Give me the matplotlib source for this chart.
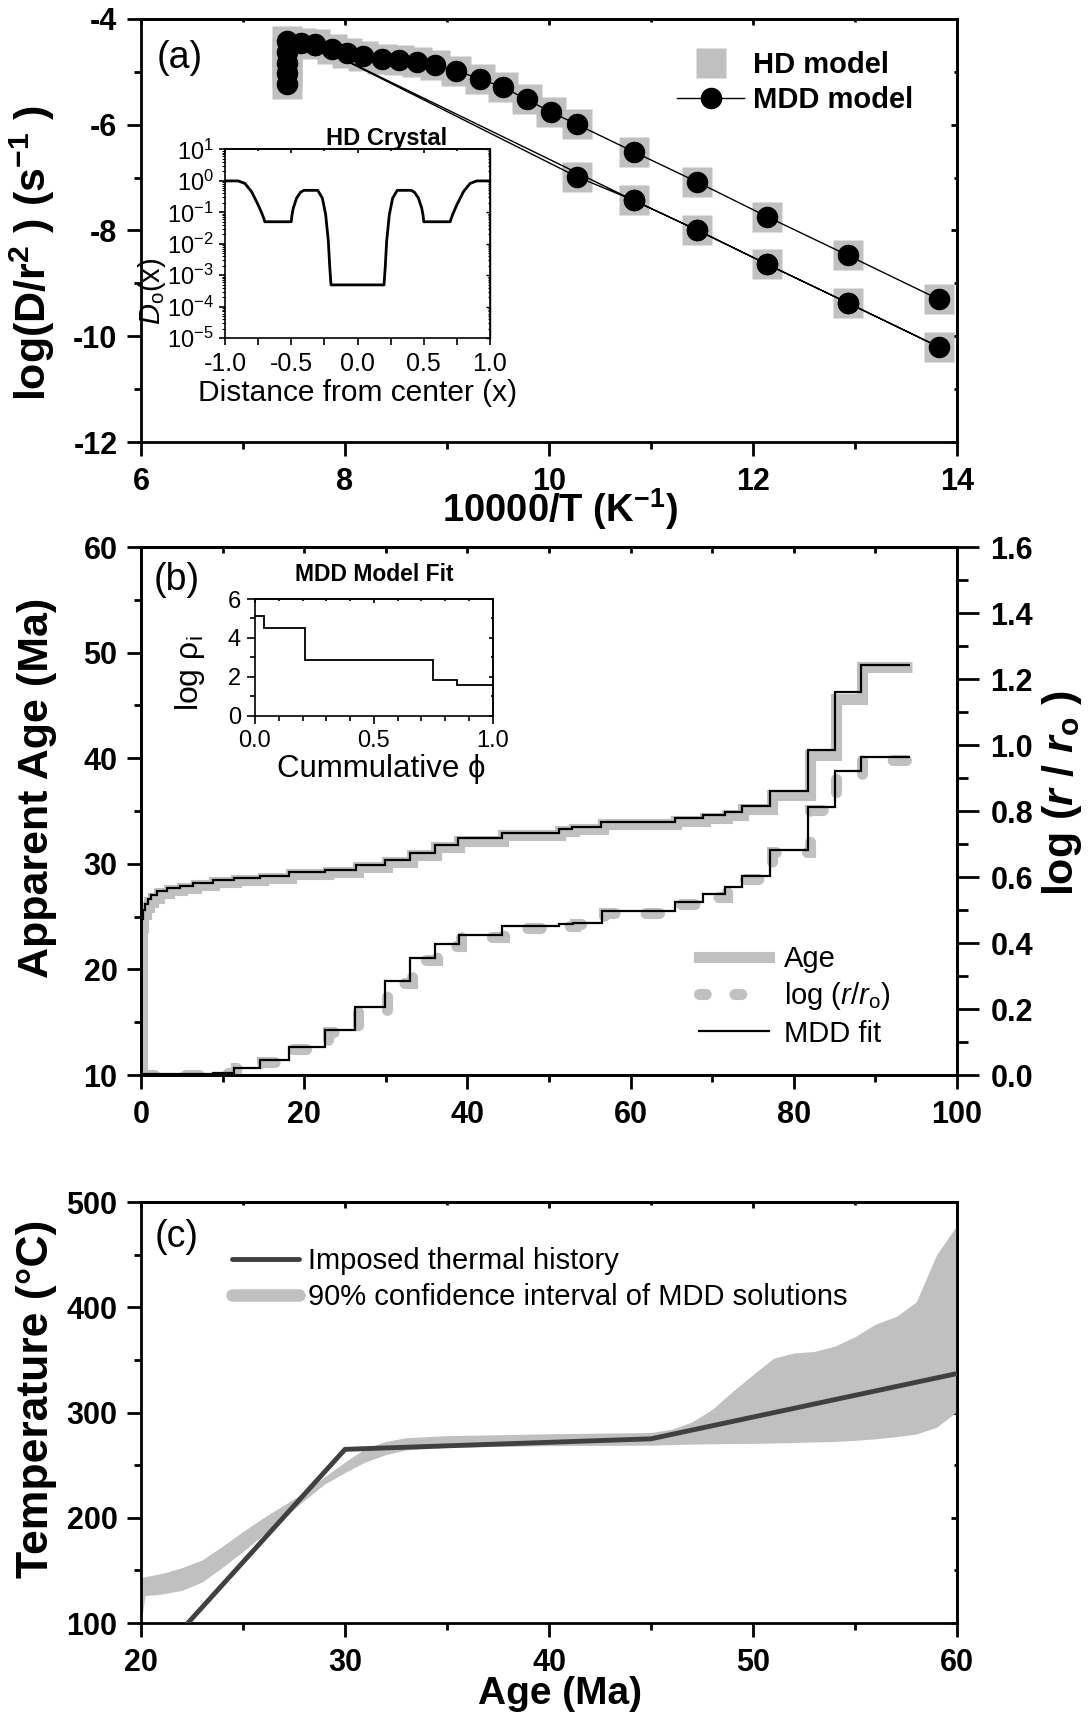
import numpy as np
import matplotlib
matplotlib.use("Agg")
import matplotlib.pyplot as plt
from matplotlib.ticker import MultipleLocator, LogLocator, NullFormatter, FormatStrFormatter
from matplotlib.lines import Line2D

plt.rcParams['font.family'] = ['Liberation Sans', 'DejaVu Sans']
plt.rcParams['font.weight'] = 'bold'
plt.rcParams['mathtext.fontset'] = 'custom'
plt.rcParams['mathtext.rm'] = 'Liberation Sans:weight=normal'
plt.rcParams['mathtext.it'] = 'Liberation Sans:italic:weight=normal'
plt.rcParams['mathtext.bf'] = 'Liberation Sans:bold'
plt.rcParams['mathtext.bfit'] = 'Liberation Sans:italic:bold'
plt.rcParams['axes.unicode_minus'] = False

LIGHT = '#c0c0c0'
DARK = '#404040'

# ---------------- (a) Arrhenius plot ----------------
hd_x = [7.43, 7.43, 7.43, 7.43, 7.43, 7.57, 7.71, 7.87, 8.02, 8.18, 8.36, 8.53, 8.71, 8.88,
        9.09, 9.32, 9.55, 9.78, 10.02, 10.27, 10.83, 11.45, 12.14, 12.93, 13.82,
        10.27, 10.83, 11.45, 12.14, 12.93, 13.82]
hd_y = [-5.22, -5.03, -4.83, -4.62, -4.42, -4.46, -4.47, -4.56, -4.65, -4.70, -4.75, -4.78, -4.81, -4.87,
        -4.98, -5.13, -5.29, -5.52, -5.76, -5.99, -6.51, -7.08, -7.74, -8.47, -9.30,
        -6.98, -7.43, -7.99, -8.64, -9.37, -10.20]

# MDD model, first chain (high temperature steps and upper branch)
mdd_x = [7.43, 7.43, 7.43, 7.43, 7.43, 7.57, 7.71, 7.87, 8.02, 8.18, 8.36, 8.53, 8.71, 8.88,
         9.09, 9.32, 9.55, 9.78, 10.02, 10.27, 10.83, 11.45, 12.14, 12.93, 13.82]
mdd_y = [-5.22, -5.03, -4.83, -4.62, -4.42, -4.46, -4.47, -4.56, -4.65, -4.70, -4.75, -4.78, -4.81, -4.87,
         -4.98, -5.13, -5.29, -5.52, -5.76, -5.99, -6.51, -7.08, -7.74, -8.47, -9.30]
# MDD model, second chain (lower branch, there and back)
mdd2_x = [7.71, 10.27, 10.83, 11.45, 12.14, 12.93, 13.82, 12.93, 12.14, 11.45, 10.83, 7.71]
mdd2_y = [-4.50, -6.98, -7.43, -7.99, -8.64, -9.37, -10.20, -9.37, -8.64, -7.99, -7.43, -4.50]

# inset (a): HD crystal diffusivity profile
prof_x = [-1.0, -0.9, -0.85, -0.8, -0.75, -0.72, -0.705, -0.7, -0.5, -0.495, -0.485, -0.46, -0.43,
          -0.405, -0.3, -0.265, -0.24, -0.22, -0.21, -0.2, 0.2, 0.21, 0.22, 0.24, 0.265, 0.3,
          0.405, 0.43, 0.46, 0.485, 0.495, 0.5, 0.7, 0.705, 0.72, 0.75, 0.8, 0.85, 0.9, 1.0]
prof_logd = [0, 0, -0.08, -0.34, -0.76, -1.05, -1.22, -1.3, -1.3, -1.1, -0.87, -0.55, -0.36,
             -0.3, -0.3, -0.55, -1.08, -1.92, -2.7, -3.31, -3.31, -2.7, -1.92, -1.08, -0.55, -0.3,
             -0.3, -0.36, -0.55, -0.87, -1.1, -1.3, -1.3, -1.22, -1.05, -0.76, -0.34, -0.08, 0, 0]

# ---------------- (b) age and log(r/ro) spectra ----------------
age_fit_edges = [0, 0.05, 0.19, 0.47, 0.8, 1.27, 1.97, 3.14, 4.78, 6.43, 8.77, 11.35, 14.63, 18.15,
                 22.61, 26.36, 29.88, 32.93, 35.98, 38.79, 44.18, 51.22, 52.86, 56.38, 65.4, 68.9,
                 71.6, 73.6, 77.1, 81.8, 85.0, 88.2, 94.2]
age_fit = [10.0, 24.8, 25.6, 26.2, 26.7, 27.0, 27.4, 27.7, 27.9, 28.2, 28.5, 28.65, 28.85, 29.2,
           29.45, 29.85, 30.4, 31.0, 31.75, 32.4, 32.9, 33.3, 33.5, 33.95, 34.35, 34.6,
           34.9, 35.5, 36.9, 40.8, 46.3, 48.8]
age_hd_edges = [0, 0.1, 0.3, 0.6, 1.0, 1.5, 2.2, 3.4, 5.0, 6.7, 9.0, 11.6, 14.9, 18.4,
                22.9, 26.6, 30.1, 33.2, 36.2, 39.0, 44.4, 51.4, 53.1, 56.6, 65.6, 69.1,
                71.8, 73.8, 77.3, 82.0, 85.2, 88.4, 94.5]
age_hd = [10.0, 24.0, 25.2, 25.9, 26.4, 26.8, 27.2, 27.5, 27.7, 28.0, 28.3, 28.45, 28.65, 29.0,
          29.25, 29.65, 30.2, 30.8, 31.55, 32.2, 32.7, 33.1, 33.3, 33.75, 34.1, 34.35,
          34.65, 35.2, 36.5, 40.3, 45.6, 48.6]

logr_fit_edges = [0, 8.77, 11.35, 14.54, 18.15, 22.61, 26.27, 29.88, 33.02, 36.07, 38.93, 44.28,
                  51.22, 53.0, 56.45, 65.4, 68.9, 71.6, 73.6, 77.1, 81.8, 85.0, 88.2, 94.2]
logr_fit = [0.003, 0.007, 0.022, 0.045, 0.084, 0.136, 0.205, 0.286, 0.356, 0.397, 0.424,
            0.452, 0.458, 0.462, 0.497, 0.525, 0.547, 0.569, 0.603, 0.683, 0.813, 0.922, 0.963]
logr_hd_edges = [0, 9.0, 11.6, 14.8, 18.4, 22.9, 26.6, 30.1, 33.2, 36.3, 39.2, 44.5,
                 51.5, 53.2, 56.7, 65.6, 69.1, 71.8, 73.8, 77.3, 82.0, 85.2, 88.4, 94.5]
logr_hd = [0.0, 0.005, 0.02, 0.04, 0.078, 0.13, 0.198, 0.278, 0.348, 0.39, 0.418,
           0.445, 0.452, 0.457, 0.49, 0.518, 0.54, 0.562, 0.595, 0.675, 0.803, 0.912, 0.955]

# inset (b): MDD domain distribution
phi_edges = [0.0, 0.037, 0.21, 0.75, 0.85, 0.995]
log_rho = [5.14, 4.53, 2.86, 1.84, 1.56]

# ---------------- (c) thermal histories ----------------
th_age = [22.3, 30.0, 45.0, 60.0]
th_temp = [100, 265, 275, 337]

ci_age = [20.0, 20.2, 21, 22, 23, 24, 25, 26, 27, 28, 29, 30, 31, 32, 33, 35, 40,
          45, 46, 47, 48, 49, 50, 51, 52, 53, 54, 55, 56, 57, 58, 59, 60]
ci_hi = [143.5, 144, 147, 152.5, 160, 173, 187, 200, 212, 224, 239, 253, 266, 272.5, 276, 278, 279.8,
         281, 284, 291, 303, 320, 336, 351.5, 356.5, 358, 363, 372, 384, 391, 405, 450, 478]
ci_lo = [100, 126, 127.5, 131, 139, 153, 168, 184, 200, 216.5, 232, 243, 253, 260, 264.5, 267, 268.5,
         269, 269.5, 270, 270.3, 270.5, 270.7, 271, 271.5, 272, 272.5, 273.5, 275, 277, 279.5, 286, 301]

W, H = 1091, 1717
fig = plt.figure(figsize=(W / 100, H / 100), dpi=100)


def box(l, t, r, b):
    return [l / W, 1 - b / H, (r - l) / W, (b - t) / H]


def outer_ticks(ax, size=22, major=10, minor=5, width=2, pad=7):
    ax.tick_params(which='major', direction='out', length=major, width=width, labelsize=size, pad=pad)
    ax.tick_params(which='minor', direction='out', length=minor, width=width)


def inner_ticks(ax, side, major_step=None, minor_step=None, length=4, width=2, log=False):
    if side == 'top':
        sec = ax.secondary_xaxis('top')
        axis = sec.xaxis
    else:
        sec = ax.secondary_yaxis('right')
        axis = sec.yaxis
    if log:
        axis.set_major_locator(LogLocator(base=10, numticks=10))
        axis.set_minor_locator(LogLocator(base=10, subs=np.arange(2, 10), numticks=10))
    else:
        axis.set_major_locator(MultipleLocator(major_step))
        axis.set_minor_locator(MultipleLocator(minor_step))
    axis.set_major_formatter(NullFormatter())
    axis.set_minor_formatter(NullFormatter())
    sec.tick_params(which='major', direction='in', length=length, width=width)
    sec.tick_params(which='minor', direction='in', length=length * 0.6, width=width)
    for s in sec.spines.values():
        s.set_linewidth(width)
    return sec


# ======================= panel (a) =======================
ax_a = fig.add_axes(box(141, 19, 957, 442))
ax_a.plot(hd_x, hd_y, ls='none', marker='s', ms=21, color=LIGHT, mec='none', zorder=2,
          label='HD model')
ax_a.plot(mdd_x, mdd_y, '-o', color='k', lw=1.0, ms=14.5, zorder=3, label='MDD model')
ax_a.plot(mdd2_x, mdd2_y, '-o', color='k', lw=1.0, ms=14.5, zorder=3)
ax_a.set_xlim(6, 14)
ax_a.set_ylim(-12, -4)
ax_a.xaxis.set_major_locator(MultipleLocator(2))
ax_a.xaxis.set_minor_locator(MultipleLocator(1))
ax_a.yaxis.set_major_locator(MultipleLocator(2))
ax_a.yaxis.set_minor_locator(MultipleLocator(1))
outer_ticks(ax_a)
ax_a.tick_params(axis='x', pad=8)
for s in ax_a.spines.values():
    s.set_linewidth(2)
inner_ticks(ax_a, 'top', 2, 1)
inner_ticks(ax_a, 'right', 2, 1)
ax_a.set_xlabel(r'10000/T (K$^{\mathbf{-1}}$)', fontsize=27.5, fontweight='bold')
ax_a.xaxis.set_label_coords(0.513, -0.105)
ax_a.set_ylabel(r'log(D/r$^{\mathbf{2}}$ ) (s$^{\mathbf{-1}}$ )', fontsize=31, fontweight='bold')
ax_a.yaxis.set_label_coords(-0.103, 0.445)
ax_a.text(0.047, 0.908, '(a)', transform=ax_a.transAxes, fontsize=27, fontweight='normal',
          ha='center', va='center')
ax_a.legend(loc='upper left', bbox_to_anchor=(0.657, 0.924), frameon=False, borderpad=0,
            borderaxespad=0, handlelength=2.3, handletextpad=0.3, labelspacing=0.25,
            prop={'size': 21, 'weight': 'bold'})

# inset (a)
ia = fig.add_axes(box(225, 149.5, 490, 338))
ia.semilogy(prof_x, 10 ** np.array(prof_logd), color='k', lw=2)
ia.set_xlim(-1, 1)
ia.set_ylim(1e-5, 1e1)
ia.xaxis.set_major_locator(MultipleLocator(0.5))
ia.xaxis.set_minor_locator(MultipleLocator(0.25))
ia.xaxis.set_major_formatter(FormatStrFormatter('%.1f'))
ia.yaxis.set_major_locator(LogLocator(base=10, numticks=10))
ia.yaxis.set_minor_locator(LogLocator(base=10, subs=np.arange(2, 10), numticks=10))
ia.tick_params(axis='x', which='major', direction='out', length=5, width=1.2, labelsize=18, pad=5)
ia.tick_params(axis='x', which='minor', direction='out', length=5, width=1.2)
ia.tick_params(axis='y', which='major', direction='out', length=4, width=1.2, labelsize=17, pad=4)
ia.tick_params(axis='y', which='minor', direction='out', length=2.5, width=0.8)
for s in ia.spines.values():
    s.set_linewidth(1.2)
inner_ticks(ia, 'top', 0.5, 0.25, length=3, width=1.2)
inner_ticks(ia, 'right', length=3, width=1.0, log=True)
ia.set_xlabel('Distance from center (x)', fontsize=21.5, fontweight='normal')
ia.xaxis.set_label_coords(0.5, -0.215)
ia.set_ylabel(r'$\mathit{D}_\mathrm{o}$(x)', fontsize=21, fontweight='normal')
ia.yaxis.set_label_coords(-0.215, 0.25)
ia.text(0.608, 1.025, 'HD Crystal', transform=ia.transAxes, fontsize=17, fontweight='bold',
        ha='center', va='baseline')

# ======================= panel (b) =======================
ax_b = fig.add_axes(box(141, 547, 957, 1075))
ax_r = ax_b.twinx()
ax_b.stairs(age_hd, age_hd_edges, baseline=None, color=LIGHT, lw=8, zorder=2)
ax_b.stairs(age_fit, age_fit_edges, baseline=None, color='k', lw=1.6, zorder=3)
g = ax_r.stairs(logr_hd, logr_hd_edges, baseline=None, color=LIGHT, lw=8,
                linestyle=(0, (1.2, 2.8)), zorder=2)
g.set_capstyle('round')
ax_r.stairs(logr_fit, logr_fit_edges, baseline=None, color='k', lw=1.6, zorder=3)

ax_b.set_xlim(0, 100)
ax_b.set_ylim(10, 60)
ax_r.set_ylim(0, 1.6)
ax_b.xaxis.set_major_locator(MultipleLocator(20))
ax_b.xaxis.set_minor_locator(MultipleLocator(10))
ax_b.yaxis.set_major_locator(MultipleLocator(10))
ax_b.yaxis.set_minor_locator(MultipleLocator(5))
ax_r.yaxis.set_major_locator(MultipleLocator(0.2))
ax_r.yaxis.set_minor_locator(MultipleLocator(0.1))
ax_r.yaxis.set_major_formatter(FormatStrFormatter('%.1f'))
outer_ticks(ax_b)
ax_b.tick_params(axis='x', pad=8)
ax_b.tick_params(right=False)
ax_r.tick_params(which='major', direction='out', length=16, width=2, labelsize=22, pad=8)
ax_r.tick_params(which='minor', direction='out', length=8, width=2)
for a in (ax_b, ax_r):
    for s in a.spines.values():
        s.set_linewidth(2)
inner_ticks(ax_b, 'top', 10, 10)
ax_b.set_ylabel('Apparent Age (Ma)', fontsize=31, fontweight='bold')
ax_b.yaxis.set_label_coords(-0.103, 0.544)
ax_r.set_ylabel(r'log ($\mathbfit{r}$ / $\mathbfit{r}_{\mathbf{o}}$ )', fontsize=31,
                fontweight='bold', rotation=90)
ax_r.yaxis.set_label_coords(1.102, 0.535)
ax_b.text(0.044, 0.9375, '(b)', transform=ax_b.transAxes, fontsize=27, fontweight='normal',
          ha='center', va='center')
handles_b = [Line2D([], [], color=LIGHT, lw=8),
             Line2D([], [], color=LIGHT, lw=8, ls=(0, (0.6, 2.6)), dash_capstyle='round'),
             Line2D([], [], color='k', lw=1.6)]
labels_b = ['Age', r'log ($\mathit{r}$/$\mathit{r}_\mathrm{o}$)', 'MDD fit']
ax_r.legend(handles_b, labels_b, loc='upper left', bbox_to_anchor=(0.684, 0.246), frameon=False,
            borderpad=0, borderaxespad=0, handlelength=2.4, handletextpad=0.5, labelspacing=0.25,
            prop={'size': 21, 'weight': 'normal'})

# inset (b)
ib = fig.add_axes(box(255, 599, 492.7, 715.7))
ib.stairs(log_rho, phi_edges, baseline=None, color='k', lw=1.3)
ib.set_xlim(0, 1)
ib.set_ylim(0, 6)
ib.xaxis.set_major_locator(MultipleLocator(0.5))
ib.xaxis.set_minor_locator(MultipleLocator(0.1))
ib.xaxis.set_major_formatter(FormatStrFormatter('%.1f'))
ib.yaxis.set_major_locator(MultipleLocator(2))
ib.yaxis.set_minor_locator(MultipleLocator(1))
ib.tick_params(which='major', direction='out', length=6, width=1.2, labelsize=17, pad=4)
ib.tick_params(which='minor', direction='out', length=3.5, width=1.2)
for s in ib.spines.values():
    s.set_linewidth(1.2)
inner_ticks(ib, 'top', 0.5, 0.1, length=3, width=1.2)
inner_ticks(ib, 'right', 2, 1, length=3, width=1.2)
ib.set_xlabel('Cummulative ϕ', fontsize=22.5, fontweight='normal')
ib.xaxis.set_label_coords(0.533, -0.33)
ib.set_ylabel(r'log ρ$_\mathrm{i}$', fontsize=23, fontweight='normal')
ib.yaxis.set_label_coords(-0.2, 0.36)
ib.set_title('MDD Model Fit', fontsize=16.5, fontweight='bold', pad=13)

# ======================= panel (c) =======================
ax_c = fig.add_axes(box(141, 1202, 957, 1623))
ax_c.fill_between(ci_age, ci_lo, ci_hi, color=LIGHT, lw=0, zorder=2)
ax_c.plot(th_age, th_temp, color=DARK, lw=3.5, zorder=3)
ax_c.set_xlim(20, 60)
ax_c.set_ylim(100, 500)
ax_c.xaxis.set_major_locator(MultipleLocator(10))
ax_c.xaxis.set_minor_locator(MultipleLocator(5))
ax_c.yaxis.set_major_locator(MultipleLocator(100))
ax_c.yaxis.set_minor_locator(MultipleLocator(50))
outer_ticks(ax_c)
ax_c.tick_params(axis='x', pad=8)
for s in ax_c.spines.values():
    s.set_linewidth(2)
inner_ticks(ax_c, 'top', 10, 5)
inner_ticks(ax_c, 'right', 100, 50)
ax_c.set_xlabel('Age (Ma)', fontsize=28, fontweight='bold')
ax_c.xaxis.set_label_coords(0.513, -0.126)
ax_c.set_ylabel('Temperature (°C)', fontsize=32, fontweight='bold')
ax_c.yaxis.set_label_coords(-0.103, 0.532)
ax_c.text(0.044, 0.917, '(c)', transform=ax_c.transAxes, fontsize=27, fontweight='normal',
          ha='center', va='center')
handles_c = [Line2D([], [], color=DARK, lw=3.5, solid_capstyle='round'),
             Line2D([], [], color=LIGHT, lw=9, solid_capstyle='round')]
ax_c.legend(handles_c, ['Imposed thermal history', '90% confidence interval of MDD solutions'],
            loc='upper left', bbox_to_anchor=(0.1115, 0.892), frameon=False, borderpad=0,
            borderaxespad=0, handlelength=2.3, handletextpad=0.3, labelspacing=0.27,
            prop={'size': 21, 'weight': 'normal'})

# inset tick labels are not bold
fig.canvas.draw()
for a in (ia, ib):
    for lbl in a.get_xticklabels() + a.get_yticklabels():
        lbl.set_fontweight('normal')

fig.savefig('out.png', dpi=100, facecolor='white')
